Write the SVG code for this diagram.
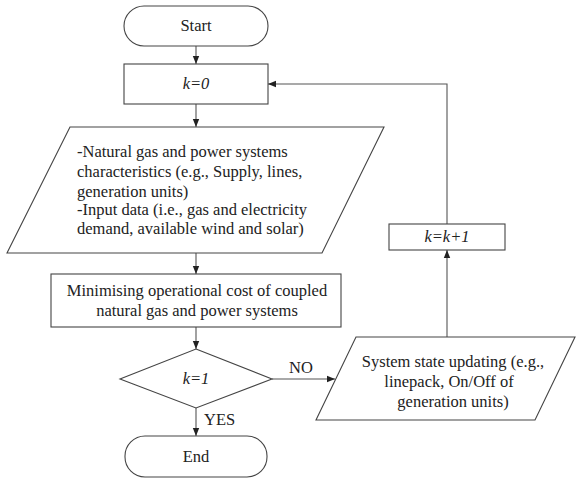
<svg xmlns="http://www.w3.org/2000/svg" width="576" height="480" viewBox="0 0 576 480">
  <style>
    .shape { fill: #fff; stroke: #444; stroke-width: 1.1; }
    .line { fill: none; stroke: #555; stroke-width: 1.1; }
    text { font-family: "Liberation Serif", "Times New Roman", serif; font-size: 16.5px; fill: #222; }
    .c { text-anchor: middle; }
    .it { font-style: italic; }
  </style>
  <defs>
    <marker id="arrow" viewBox="0 0 8 8" refX="8" refY="4" markerWidth="8" markerHeight="8" markerUnits="userSpaceOnUse" orient="auto">
      <path d="M0,0.8 L8,4 L0,7.2 Z" fill="#222"/>
    </marker>
  </defs>
  <rect width="576" height="480" fill="#fff"/>

  <g id="connectors" font-family="Liberation Serif, serif">
    <line class="line" x1="196" y1="46" x2="196" y2="64" marker-end="url(#arrow)"/>
    <line class="line" x1="196" y1="104" x2="196" y2="127" marker-end="url(#arrow)"/>
    <line class="line" x1="196" y1="253" x2="196" y2="274" marker-end="url(#arrow)"/>
    <line class="line" x1="196" y1="327" x2="196" y2="349" marker-end="url(#arrow)"/>
    <line class="line" x1="196" y1="408" x2="196" y2="436" marker-end="url(#arrow)"/>
    <line class="line" x1="272" y1="379" x2="335" y2="379" marker-end="url(#arrow)"/>
    <line class="line" x1="447" y1="337" x2="447" y2="250" marker-end="url(#arrow)"/>
    <polyline class="line" points="447,224 447,84 268,84" marker-end="url(#arrow)"/>
    <text x="204" y="425">YES</text>
    <text class="c" x="301" y="373">NO</text>
  </g>

  <g id="start">
    <rect class="shape" x="124" y="6" width="144" height="40" rx="20" ry="20"/>
    <text class="c" x="196" y="31">Start</text>
  </g>

  <g id="init">
    <rect class="shape" x="124" y="64" width="144" height="40"/>
    <text class="c it" x="196" y="89">k=0</text>
  </g>

  <g id="inputs">
    <polygon class="shape" points="70,127 384,127 322,253 7,253"/>
    <text x="77" y="157">-Natural gas and power systems</text>
    <text x="77" y="177">characteristics (e.g., Supply, lines,</text>
    <text x="77" y="197">generation units)</text>
    <text x="77" y="215">-Input data (i.e., gas and electricity</text>
    <text x="77" y="234">demand, available wind and solar)</text>
  </g>

  <g id="optimise">
    <rect class="shape" x="51" y="274" width="290" height="53"/>
    <text class="c" x="197" y="296">Minimising operational cost of coupled</text>
    <text class="c" x="197" y="316">natural gas and power systems</text>
  </g>

  <g id="check">
    <polygon class="shape" points="196,349 272,379 196,408 120,379"/>
    <text class="c it" x="196" y="384">k=1</text>
  </g>

  <g id="end">
    <rect class="shape" x="125" y="436" width="142" height="41" rx="20" ry="20"/>
    <text class="c" x="196" y="462">End</text>
  </g>

  <g id="update">
    <polygon class="shape" points="356,337 575,337 535,420 316,420"/>
    <text class="c" x="453" y="367">System state updating (e.g.,</text>
    <text class="c" x="449" y="387">linepack, On/Off of</text>
    <text class="c" x="453" y="407">generation units)</text>
  </g>

  <g id="increment">
    <rect class="shape" x="389" y="224" width="116" height="26"/>
    <text class="c it" x="447" y="242">k=k+1</text>
  </g>
</svg>
